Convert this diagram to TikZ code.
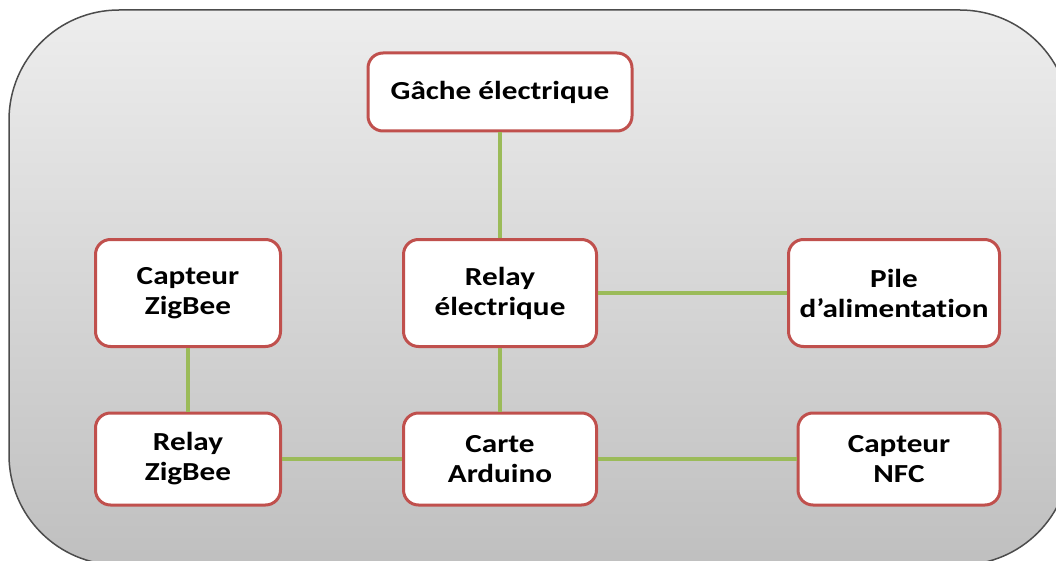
\documentclass[tikz,border=0pt]{standalone}
\usepackage{fontspec}
\setmainfont{Carlito}[FakeStretch=1.2, Ligatures=NoCommon]
\usepackage{tikz}
\usetikzlibrary{positioning}
\definecolor{boxred}{HTML}{C0504D}
\definecolor{linkgreen}{HTML}{9BBB59}
\tikzset{
  blocknode/.style={
    rectangle, rounded corners=15pt, draw=boxred, line width=3pt, fill=white,
    align=center, font=\fontsize{26}{30}\selectfont\bfseries, inner sep=2pt
  },
  linkline/.style={draw=linkgreen, line width=4pt},
}
\begin{document}
\begin{tikzpicture}[x=1pt, y=-1pt]
  \useasboundingbox (0,0) rectangle (1056,561);
  \clip (0,0) rectangle (1056,561);
  % fond
  \draw[draw=black!70, line width=1.5pt, rounded corners=110pt,
        top color=black!7, bottom color=black!25]
    (9,10) rectangle (1070,565);
  % blocs
  \node (gache) [blocknode, minimum width=264pt, minimum height=78pt] at (500,92) {Gâche électrique};
  \node (relayel) [blocknode, minimum width=193pt, minimum height=107pt] at (500,293) {Relay\\électrique};
  \node (capzig) [blocknode, minimum width=185pt, minimum height=107pt] at (188,293) {Capteur\\ZigBee};
  \node (pile) [blocknode, minimum width=211pt, minimum height=107pt] at (894,293) {Pile\\d’alimentation};
  \node (relayzig) [blocknode, minimum width=185pt, minimum height=92pt] at (188,459) {Relay\\ZigBee};
  \node (arduino) [blocknode, minimum width=193pt, minimum height=92pt] at (500,459) {Carte\\Arduino};
  \node (nfc) [blocknode, minimum width=202pt, minimum height=92pt] at (899,459) {Capteur\\NFC};
  % liaisons
  \draw[linkline] (gache) -- (relayel);
  \draw[linkline] (relayel) -- (pile);
  \draw[linkline] (relayel) -- (arduino);
  \draw[linkline] (capzig) -- (relayzig);
  \draw[linkline] (relayzig) -- (arduino);
  \draw[linkline] (arduino) -- (nfc);
\end{tikzpicture}
\end{document}
